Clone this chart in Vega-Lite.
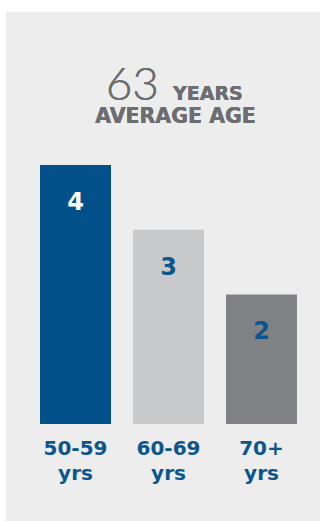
{
  "$schema": "https://vega.github.io/schema/vega-lite/v6.json",
  "autosize": {"type": "none"},
  "padding": {"left": 6, "top": 12, "right": 0, "bottom": 0},
  "width": 314,
  "height": 509,
  "background": "#ffffff",
  "config": {
    "view": {"fill": "#ededed", "stroke": null},
    "text": {"font": "DejaVu Sans"}
  },
  "data": {
    "values": [
      {"age": "50-59 yrs", "count": 4},
      {"age": "60-69 yrs", "count": 3},
      {"age": "70+ yrs", "count": 2}
    ]
  },
  "encoding": {
    "x": {
      "field": "age",
      "type": "nominal",
      "sort": null,
      "scale": {"range": [23, 302], "paddingInner": 0.2366, "paddingOuter": 0.1183},
      "axis": {
        "title": null,
        "domain": false,
        "ticks": false,
        "labelAngle": 0,
        "labelExpr": "split(datum.label, ' ')",
        "labelFont": "DejaVu Sans",
        "labelFontSize": 20,
        "labelFontWeight": "bold",
        "labelColor": "#0b568f",
        "labelLineHeight": 25,
        "labelBaseline": "top",
        "labelPadding": 14,
        "offset": -97
      }
    }
  },
  "layer": [
    {
      "mark": {"type": "bar"},
      "encoding": {
        "y": {
          "field": "count",
          "type": "quantitative",
          "scale": {"domain": [0, 6.36], "range": [412, 0], "nice": false},
          "axis": null
        },
        "color": {
          "field": "age",
          "type": "nominal",
          "sort": null,
          "scale": {"range": ["#02508a", "#c8c9cb", "#808184"]},
          "legend": null
        }
      }
    },
    {
      "mark": {"type": "text", "fontSize": 24, "fontWeight": "bold", "baseline": "alphabetic", "dy": 45},
      "encoding": {
        "y": {"field": "count", "type": "quantitative"},
        "text": {"field": "count", "type": "quantitative"},
        "color": {
          "condition": {"test": "datum.age === '50-59 yrs'", "value": "#ffffff"},
          "value": "#0b568f"
        }
      }
    },
    {
      "mark": {"type": "text", "font": "Lato", "fontWeight": 300, "fontSize": 46, "align": "right", "baseline": "alphabetic", "dx": -9.5, "color": "#6d6e71"},
      "encoding": {
        "x": {"datum": "60-69 yrs"},
        "y": {"datum": 5.0},
        "text": {"value": "63"}
      }
    },
    {
      "mark": {"type": "text", "fontSize": 19, "fontWeight": "bold", "align": "left", "baseline": "alphabetic", "dx": 4.5, "color": "#6d6e71"},
      "encoding": {
        "x": {"datum": "60-69 yrs"},
        "y": {"datum": 5.0},
        "text": {"value": "YEARS"}
      }
    },
    {
      "mark": {"type": "text", "fontSize": 20.5, "fontWeight": "bold", "align": "center", "baseline": "alphabetic", "dx": 7, "color": "#6d6e71"},
      "encoding": {
        "x": {"datum": "60-69 yrs"},
        "y": {"datum": 4.647},
        "text": {"value": "AVERAGE AGE"}
      }
    }
  ]
}
